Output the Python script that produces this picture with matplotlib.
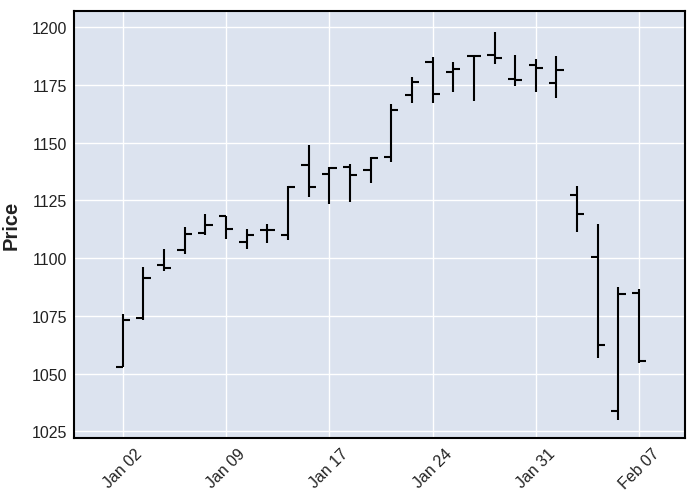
import numpy as np
import pandas as pd
import matplotlib
matplotlib.use("Agg")
import matplotlib.pyplot as plt

plt.rcParams['font.family'] = ['Liberation Sans', 'DejaVu Sans']

# GOOGL daily OHLC, Jan 02 - Feb 07 2018 (trading days only)
dates = ['2018-01-02', '2018-01-03', '2018-01-04', '2018-01-05', '2018-01-08',
         '2018-01-09', '2018-01-10', '2018-01-11', '2018-01-12', '2018-01-16',
         '2018-01-17', '2018-01-18', '2018-01-19', '2018-01-22', '2018-01-23',
         '2018-01-24', '2018-01-25', '2018-01-26', '2018-01-29', '2018-01-30',
         '2018-01-31', '2018-02-01', '2018-02-02', '2018-02-05', '2018-02-06',
         '2018-02-07']
opens = [1053.0, 1073.9, 1097.1, 1103.5, 1111.0, 1118.4, 1107.0, 1112.3, 1110.1, 1140.3,
         1136.4, 1139.4, 1138.0, 1143.8, 1170.6, 1185.0, 1180.7, 1187.5, 1188.0, 1177.7,
         1183.8, 1176.0, 1127.4, 1100.6, 1034.0, 1085.0]
highs = [1076.0, 1096.1, 1104.1, 1113.6, 1119.2, 1118.4, 1112.8, 1114.9, 1131.3, 1148.9,
         1139.3, 1140.6, 1143.8, 1166.9, 1178.5, 1187.1, 1185.0, 1187.6, 1198.0, 1187.9,
         1186.3, 1187.5, 1131.3, 1115.0, 1087.4, 1086.5]
lows = [1053.0, 1073.4, 1094.3, 1101.8, 1110.0, 1108.2, 1104.0, 1106.5, 1108.0, 1126.7,
        1123.5, 1124.5, 1132.5, 1141.8, 1167.3, 1167.4, 1171.8, 1168.0, 1184.1, 1174.5,
        1172.1, 1169.4, 1111.2, 1056.7, 1030.0, 1054.6]
closes = [1073.2, 1091.5, 1095.8, 1110.3, 1114.2, 1112.8, 1110.1, 1112.1, 1130.7, 1130.7,
          1139.1, 1136.0, 1143.5, 1164.2, 1176.2, 1171.3, 1182.1, 1187.6, 1186.5, 1177.4,
          1182.2, 1181.6, 1119.2, 1062.4, 1084.4, 1055.4]

y_ticks = [1025, 1050, 1075, 1100, 1125, 1150, 1175, 1200]

dt = pd.to_datetime(dates)
x = np.arange(len(dt))
tick_w = 0.35

fig = plt.figure(figsize=(6.95, 5.02), dpi=100)
ax = fig.add_axes([0.1065, 0.1249, 0.879, 0.8518])
ax.set_facecolor('#DCE3EF')
ax.set_axisbelow(True)
ax.grid(True, color='white', linewidth=1.0)

# high-low range, then open (left) and close (right) ticks
ax.vlines(x, lows, highs, color='black', linewidth=1.5)
ax.hlines(opens, x - tick_w, x, color='black', linewidth=1.5)
ax.hlines(closes, x, x + tick_w, color='black', linewidth=1.5)

ax.set_xlim(-2.36, 27.22)
ax.set_ylim(1022.0, 1207.2)

xt = x[::5]
ax.set_xticks(xt)
ax.set_xticklabels([d.strftime('%b %d') for d in dt[::5]], rotation=45,
                   ha='center', va='top')
ax.set_yticks(y_ticks)
ax.tick_params(axis='both', length=0, labelsize=11.5, labelcolor='#222222', pad=5)

ax.set_ylabel('Price', fontsize=14.5, fontweight='bold', color='#222222', labelpad=8)

for side in ax.spines.values():
    side.set_color('black')
    side.set_linewidth(1.5)

fig.savefig('out.png', dpi=100)
